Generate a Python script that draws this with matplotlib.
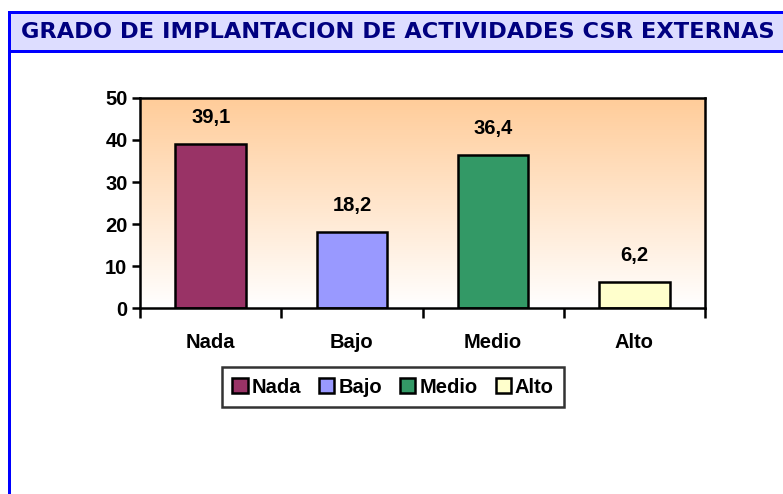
import matplotlib.pyplot as plt
import numpy as np
from matplotlib.patches import Rectangle

categorias = ["Nada", "Bajo", "Medio", "Alto"]
valores = [39.1, 18.2, 36.4, 6.2]
etiquetas = ["39,1", "18,2", "36,4", "6,2"]
colores = ["#993366", "#9999FF", "#339966", "#FFFFCC"]
yticks = [0, 10, 20, 30, 40, 50]

W, H = 783, 494
fig = plt.figure(figsize=(W / 100, H / 100), dpi=100)
fig.patch.set_facecolor("white")

# marco azul y banda del titulo (coordenadas en pixeles -> figura)
def px(x, y):
    return x / W, 1 - y / H

fig.patches.append(Rectangle(px(8, 52), (W - 8) / W, 40 / H, transform=fig.transFigure,
                             facecolor="#DDDDFF", edgecolor="none", zorder=0))
fig.patches.append(Rectangle(px(8, 14), (W - 8) / W, 3 / H, transform=fig.transFigure,
                             facecolor="#0000FF", edgecolor="none", zorder=1))
fig.patches.append(Rectangle(px(8, 53), (W - 8) / W, 3 / H, transform=fig.transFigure,
                             facecolor="#0000FF", edgecolor="none", zorder=1))
fig.patches.append(Rectangle(px(8, H), 3 / W, (H - 11) / H, transform=fig.transFigure,
                             facecolor="#0000FF", edgecolor="none", zorder=1))
fig.text(21 / W, 1 - 32 / H, "GRADO DE IMPLANTACION DE ACTIVIDADES CSR EXTERNAS",
         fontsize=16.2, fontweight="bold", color="#000080", family="DejaVu Sans",
         va="center", ha="left")

ax = fig.add_axes([140 / W, 1 - 308 / H, 565 / W, 210 / H])
x = np.arange(len(categorias))
ax.set_xlim(-0.5, len(categorias) - 0.5)
ax.set_ylim(0, 50)

# fondo degradado
grad = np.linspace(0, 1, 256).reshape(-1, 1)
top = np.array([0xFF, 0xCC, 0x99]) / 255
bot = np.array([0xFF, 0xFF, 0xFF]) / 255
img = bot + (top - bot) * grad[..., None]
ax.imshow(img, extent=[-0.5, len(categorias) - 0.5, 0, 50], origin="lower",
          aspect="auto", zorder=0)

bars = ax.bar(x, valores, width=0.5, color=colores, edgecolor="black",
              linewidth=1.8, zorder=2, label=categorias)
for xi, v, t in zip(x, valores, etiquetas):
    ax.text(xi, v + 4.0, t, ha="center", va="bottom", fontsize=14.5,
            fontweight="bold", family="Liberation Sans")

for s in ax.spines.values():
    s.set_linewidth(1.8)
ax.set_yticks(yticks)
ax.set_yticklabels([str(v) for v in yticks], fontsize=14.5, fontweight="bold",
                   family="Liberation Sans")
ax.set_xticks(np.arange(len(categorias) + 1) - 0.5, minor=False)
ax.set_xticklabels([])
ax.set_xticks(x, minor=True)
ax.set_xticklabels(categorias, minor=True, fontsize=14.5, fontweight="bold",
                   family="Liberation Sans")
ax.tick_params(axis="x", which="major", length=7, width=1.8, direction="out")
ax.tick_params(axis="x", which="minor", length=0, pad=18)
ax.tick_params(axis="y", length=6, width=1.8, direction="out", pad=3)

leg = fig.legend(handles=list(bars), labels=categorias, loc="center",
                 bbox_to_anchor=(393 / W, 1 - 387 / H), ncol=4, frameon=True,
                 fancybox=False, edgecolor="black", handlelength=0.75,
                 handleheight=0.75, handletextpad=0.2, columnspacing=0.9,
                 prop={"family": "Liberation Sans", "weight": "bold", "size": 14.5},
                 borderpad=0.5)
leg.get_frame().set_linewidth(1.8)

fig.savefig("out.png", dpi=100)
